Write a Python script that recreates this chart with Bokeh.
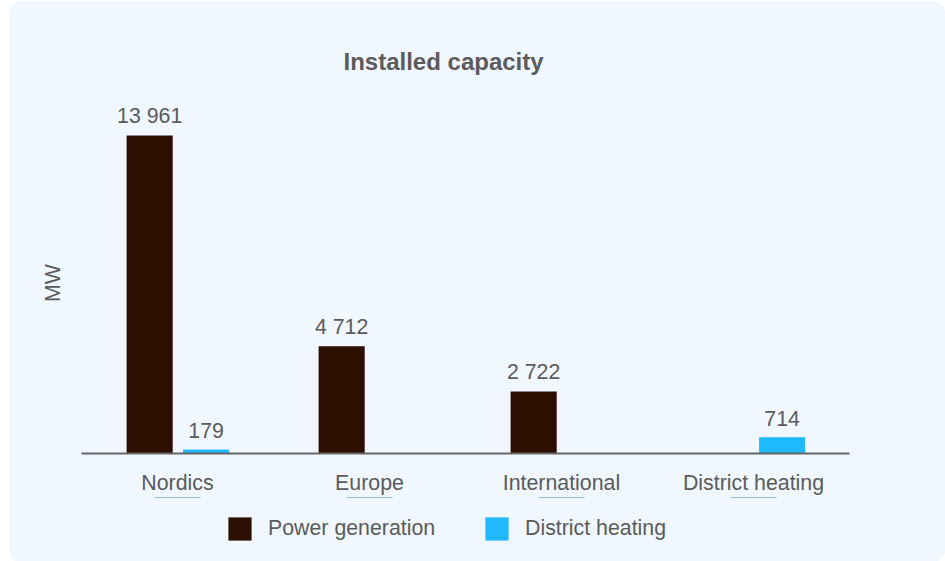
from bokeh.plotting import figure
from bokeh.layouts import column
from bokeh.models import ColumnDataSource, FactorRange, Range1d, FixedTicker, Legend, LegendItem
from bokeh.transform import dodge
from bokeh.core.properties import value
from bokeh.embed import file_html
from bokeh.resources import INLINE

categories = ["Nordics", "Europe", "International", "District heating"]
power_generation = [13961, 4712, 2722, 0]
district_heating = [179, 0, 0, 714]
series_names = ["Power generation", "District heating"]

POWER_COLOR = "#2b0f00"
HEAT_COLOR = "#1fb9ff"
TEXT_COLOR = "#5b5b5b"
BG = "#f0f7fe"
FONT = "Liberation Sans"

def fmt(v):
    return f"{v:,}".replace(",", " ")

src = ColumnDataSource(dict(cat=categories, power=power_generation, heat=district_heating))

pw_lbl = [(c, v, fmt(v)) for c, v in zip(categories, power_generation) if v > 0]
ht_lbl = [(c, v, fmt(v)) for c, v in zip(categories, district_heating) if v > 0]
pw_src = ColumnDataSource(dict(cat=[a[0] for a in pw_lbl], y=[a[1] for a in pw_lbl], t=[a[2] for a in pw_lbl]))
ht_src = ColumnDataSource(dict(cat=[a[0] for a in ht_lbl], y=[a[1] for a in ht_lbl], t=[a[2] for a in ht_lbl]))

# ---------------- main chart ----------------
p = figure(width=936, height=495, frame_width=768, frame_height=369,
           x_range=FactorRange(*categories), y_range=Range1d(0, 16200),
           output_backend="svg", toolbar_location=None,
           min_border_left=72, min_border_right=96, min_border_top=83, min_border_bottom=43,
           title="Installed capacity")
p.styles = {"border-radius": "12px 12px 0 0", "overflow": "hidden"}

p.background_fill_color = BG
p.border_fill_color = BG
p.outline_line_color = None
p.xgrid.visible = False
p.ygrid.visible = False

p.title.text_font = FONT
p.title.text_font_size = "24px"
p.title.text_font_style = "bold"
p.title.text_color = TEXT_COLOR
p.title.align = "left"
p.title.offset = 262
p.title.standoff = 20

OFF_P = -0.145
OFF_H = 0.149
BW = 0.24

p.vbar(x=dodge("cat", OFF_P, range=p.x_range), top="power", width=BW, source=src,
       color=POWER_COLOR, line_color=None)
p.vbar(x=dodge("cat", OFF_H, range=p.x_range), top="heat", width=BW, source=src,
       color=HEAT_COLOR, line_color=None)

for s, off in ((pw_src, OFF_P), (ht_src, OFF_H)):
    p.text(x=dodge("cat", off, range=p.x_range), y="y", text="t", source=s,
           text_align="center", text_baseline="alphabetic", y_offset=-19,
           text_font=value(FONT), text_font_size="21.33px", text_color=TEXT_COLOR)

xa = p.xaxis[0]
xa.axis_line_color = "#666666"
xa.axis_line_width = 2
xa.major_tick_line_color = None
xa.minor_tick_line_color = None
xa.major_label_text_font = FONT
xa.major_label_text_font_size = "21.33px"
xa.major_label_text_color = TEXT_COLOR
xa.major_label_standoff = 11

ya = p.yaxis[0]
ya.ticker = FixedTicker(ticks=[])
ya.axis_line_color = None
ya.major_tick_line_color = None
ya.minor_tick_line_color = None
ya.axis_label = "MW" + "\u00a0" * 4 + "\u2009"
ya.axis_label_text_font = FONT
ya.axis_label_text_font_size = "21.33px"
ya.axis_label_text_font_style = "normal"
ya.axis_label_text_color = TEXT_COLOR
ya.axis_label_standoff = 17

# ---------------- legend strip (zero-height bars of the same data, outside its y range) ----------------
q = figure(width=936, height=65, x_range=FactorRange(*categories), y_range=Range1d(-2, -1),
           output_backend="svg", toolbar_location=None,
           x_axis_location=None, y_axis_location=None,
           min_border_left=0, min_border_right=0, min_border_top=0, min_border_bottom=0)
q.styles = {"border-radius": "0 0 12px 12px", "overflow": "hidden"}
q.background_fill_color = BG
q.border_fill_color = BG
q.outline_line_color = None
q.grid.visible = False

g1 = q.vbar(x="cat", top="power", bottom="power", width=BW, source=src, color=POWER_COLOR, line_color=None)
g2 = q.vbar(x="cat", top="heat", bottom="heat", width=BW, source=src, color=HEAT_COLOR, line_color=None)

legend = Legend(items=[LegendItem(label=series_names[0], renderers=[g1]),
                       LegendItem(label=series_names[1], renderers=[g2])],
                orientation="horizontal", location=(144, 19))
legend.padding = 0
legend.margin = 0
legend.spacing = 37
legend.label_width = 177
legend.glyph_width = 29
legend.glyph_height = 29
legend.label_height = 29
legend.label_standoff = 14
legend.label_text_font = FONT
legend.label_text_font_size = "21.33px"
legend.label_text_color = TEXT_COLOR
legend.label_text_baseline = "middle"
legend.border_line_color = None
legend.background_fill_alpha = 0
q.add_layout(legend, "center")

layout = column(p, q, spacing=0,
                styles={"margin-left": "9px", "margin-top": "1px", "background-color": BG,
                        "border-radius": "12px", "overflow": "hidden"})

open("out.html", "w").write(file_html(layout, INLINE))
